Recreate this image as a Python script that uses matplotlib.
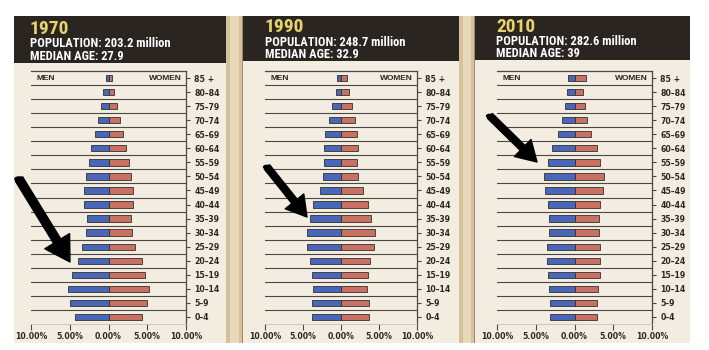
import matplotlib
matplotlib.use("Agg")
import matplotlib.pyplot as plt
from matplotlib import font_manager as fm
from matplotlib.patches import Rectangle

W, H, DPI = 709, 350, 100

# ---- data -------------------------------------------------------------
age_groups = ["85 +", "80–84", "75–79", "70–74", "65–69", "60–64", "55–59",
              "50–54", "45–49", "40–44", "35–39", "30–34", "25–29", "20–24",
              "15–19", "10–14", "5–9", "0–4"]

years = ["1970", "1990", "2010"]
populations = ["203.2 million", "248.7 million", "282.6 million"]
median_ages = ["27.9", "32.9", "39"]

# share of total population (%), listed from oldest to youngest
men_1970 = [0.34, 0.68, 0.98, 1.33, 1.72, 2.20, 2.58, 2.84, 3.10, 3.10,
            2.80, 2.84, 3.40, 4.00, 4.77, 5.20, 5.00, 4.26]
women_1970 = [0.44, 0.74, 1.12, 1.50, 1.90, 2.28, 2.60, 2.89, 3.15, 3.15,
              2.89, 2.97, 3.40, 4.26, 4.73, 5.20, 4.95, 4.35]

men_1990 = [0.53, 0.70, 1.22, 1.62, 2.05, 2.28, 2.28, 2.37, 2.80, 3.68,
            4.12, 4.51, 4.42, 4.03, 3.82, 3.63, 3.82, 3.86]
women_1990 = [0.79, 1.00, 1.45, 1.80, 2.15, 2.24, 2.15, 2.24, 2.85, 3.60,
              4.00, 4.43, 4.39, 3.87, 3.60, 3.47, 3.73, 3.73]

men_2010 = [0.81, 0.94, 1.20, 1.64, 2.19, 2.93, 3.48, 4.00, 3.87, 3.48,
            3.32, 3.35, 3.52, 3.52, 3.44, 3.23, 3.10, 3.10]
women_2010 = [1.42, 1.07, 1.38, 1.64, 2.15, 2.88, 3.35, 3.83, 3.74, 3.31,
              3.19, 3.19, 3.35, 3.35, 3.31, 3.06, 2.93, 2.93]

x_ticks = [-10, -5, 0, 5, 10]
x_tick_labels = ["10.00%", "5.00%", "0.00%", "5.00%", "10.00%"]

# ---- styling ----------------------------------------------------------
def pick_font(candidates, default):
    names = {f.name for f in fm.fontManager.ttflist}
    for c in candidates:
        if c in names:
            return c
    return default

HEAD_FONT = pick_font(["Liberation Sans Narrow", "Roboto Condensed",
                       "DejaVu Sans Condensed", "Open Sans Condensed"],
                      "Liberation Sans")
NARROW = HEAD_FONT != "Liberation Sans"

PAPER = "#f3ede1"
HEADER = "#2b2521"
STRIP = "#d6c19d"
STRIP_LIGHT = "#e8d9bb"
BLUE = "#4867b8"
RED = "#c87062"
EDGE = "#33302e"
GRID = "#4a4744"
INK = "#2a2724"
YELLOW = "#e6d36b"

fig = plt.figure(figsize=(W / DPI, H / DPI), dpi=DPI, facecolor="white")


def fx(x):
    return x / W


def fy(y):
    return 1 - y / H


def add_rect(x0, y0, x1, y1, color, z=0):
    fig.add_artist(Rectangle((fx(x0), fy(y1)), fx(x1) - fx(x0), fy(y0) - fy(y1),
                             transform=fig.transFigure, facecolor=color,
                             edgecolor="none", zorder=z))


# panels: (left, right) of the page column, then (left, right) of the axes
panels = [
    dict(page=(14, 226), axes=(31, 186), hdr_bottom=63, text_x=30,
         base=(34, 47, 60)),
    dict(page=(243, 459), axes=(265, 417), hdr_bottom=61, text_x=265,
         base=(32.5, 46, 57.5)),
    dict(page=(475, 690), axes=(497, 652), hdr_bottom=60, text_x=496,
         base=(32, 45, 57)),
]
series = [(men_1970, women_1970), (men_1990, women_1990), (men_2010, women_2010)]

# paper columns, headers and the tan gutters between them
for p in panels:
    add_rect(p["page"][0], 16, p["page"][1], 343, PAPER, 0)
    add_rect(p["page"][0], 16, p["page"][1], p["hdr_bottom"], HEADER, 1)
for g0, g1 in [(226, 243), (459, 475)]:
    add_rect(g0, 16, g1, 343, STRIP, 0)
    add_rect(g0 + 4, 16, g1 - 4, 343, STRIP_LIGHT, 0)
    add_rect(g1 - 1, 16, g1, 343, "#9c8a6c", 0)

year_size = 14 if NARROW else 12
sub_size = 9 if NARROW else 7.8

for p, (men, women), yr, pop, med in zip(panels, series, years, populations, median_ages):
    # header text
    fig.text(fx(p["text_x"]), fy(p["base"][0]), yr, color=YELLOW,
             fontsize=year_size, fontweight="bold", family=HEAD_FONT,
             va="baseline", ha="left", zorder=5)
    fig.text(fx(p["text_x"]), fy(p["base"][1]), f"POPULATION: {pop}",
             color="white", fontsize=sub_size, fontweight="bold",
             family=HEAD_FONT, va="baseline", ha="left", zorder=5)
    fig.text(fx(p["text_x"]), fy(p["base"][2]), f"MEDIAN AGE: {med}",
             color="white", fontsize=sub_size, fontweight="bold",
             family=HEAD_FONT, va="baseline", ha="left", zorder=5)

    # pyramid
    x0, x1 = p["axes"]
    ax = fig.add_axes([fx(x0), fy(324), fx(x1) - fx(x0), fy(71) - fy(324)])
    ax.set_facecolor("none")
    ax.set_zorder(3)
    rows = list(range(len(age_groups)))
    ax.barh(rows, [-m for m in men], height=0.45, color=BLUE,
            edgecolor=EDGE, linewidth=0.6, zorder=3)
    ax.barh(rows, women, height=0.45, color=RED,
            edgecolor=EDGE, linewidth=0.6, zorder=3)
    for r in rows[:-1]:
        ax.axhline(r + 0.5, color=GRID, linewidth=0.8, zorder=1)

    ax.set_xlim(-10, 10)
    ax.set_ylim(len(age_groups) - 0.5, -0.5)
    ax.set_yticks(rows)
    ax.set_yticklabels(age_groups)
    ax.yaxis.tick_right()
    ax.set_xticks(x_ticks)
    ax.set_xticklabels(x_tick_labels)
    ax.tick_params(axis="y", length=3, width=0.8, color=GRID, pad=3,
                   labelsize=5.6, labelcolor=INK)
    ax.tick_params(axis="x", length=4, width=0.8, color=GRID, pad=2,
                   labelsize=5.6, labelcolor=INK)
    for lab in ax.get_xticklabels() + ax.get_yticklabels():
        lab.set_fontweight("bold")

    ax.spines["left"].set_visible(False)
    ax.spines["top"].set_color(GRID)
    ax.spines["top"].set_linewidth(0.9)
    ax.spines["right"].set_color(GRID)
    ax.spines["right"].set_linewidth(0.9)
    ax.spines["bottom"].set_color("#c9c2b6")
    ax.spines["bottom"].set_linewidth(0.6)

    ax.text(-9.3, 0, "MEN", fontsize=6, fontweight="bold", color=INK,
            family="Liberation Sans", ha="left", va="center", zorder=4)
    ax.text(9.5, 0, "WOMEN", fontsize=6, fontweight="bold", color=INK,
            family="Liberation Sans", ha="right", va="center", zorder=4)

# black pointer arrows (tail -> tip, page pixels)
arrows = [((19, 179), (70, 262), 11), ((267, 167), (307, 217), 9),
          ((490, 116), (537, 162), 9)]
for (tx, ty), (hx, hy), ms in arrows:
    fig.add_artist(matplotlib.patches.FancyArrowPatch(
        (fx(tx), fy(ty)), (fx(hx), fy(hy)), transform=fig.transFigure,
        arrowstyle="simple,head_length=1.6,head_width=1.9,tail_width=0.55",
        mutation_scale=ms, color="black", zorder=10, shrinkA=0, shrinkB=0))
    fig.add_artist(matplotlib.patches.Circle(
        (fx(tx), fy(ty)), 0.275 * ms * DPI / 72 / W, transform=fig.transFigure,
        color="black", zorder=10))

fig.savefig("out.png", dpi=DPI, facecolor="white")
